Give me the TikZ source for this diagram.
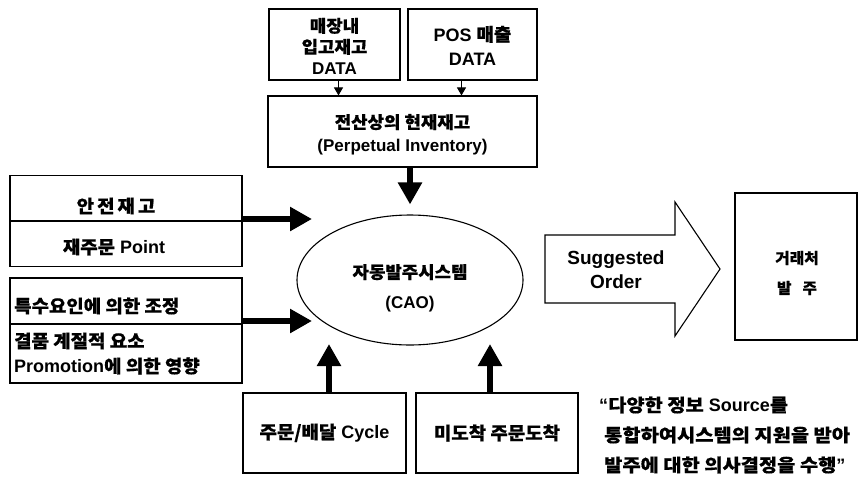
\documentclass[tikz,border=0pt]{standalone}
\usepackage{fontspec}
\setmainfont{Liberation Sans}
% Hangul faces: slightly widened and heavier for the boxes and for the closing note
\newfontfamily\krfont{Noto Sans CJK KR}[FakeStretch=1.05, FakeBold=0.5]
\newfontfamily\krnote{Noto Sans CJK KR}[FakeStretch=1.1, FakeBold=0.5]
\newcommand\K[1]{{\krfont\bfseries #1}}
\newcommand\KN[1]{{\krnote\bfseries #1}}
\usetikzlibrary{arrows.meta,shapes.geometric}

\begin{document}
\begin{tikzpicture}[x=1pt,y=-1pt,
  every node/.style={font=\fontsize{18}{22}\selectfont\bfseries},
  box/.style={draw, line width=1.1pt, inner sep=0pt, align=center},
  label/.style={inner sep=0pt, align=center},
  thin arrow/.style={line width=1pt, -{Triangle[length=8pt,width=9pt]}},
  fat arrow/.style={line width=6.5pt, -{Triangle[length=22pt,width=23pt]}}]

\useasboundingbox (0,0) rectangle (859,480);

% data sources on top
\node[box, minimum width=131pt, minimum height=71pt] (src1) at (334.5,44.5) {};
\node[label, font=\fontsize{17}{21}\selectfont\bfseries] (src1text) at (334.5,46)
  {\K{매장내}\\\K{입고재고}\\DATA};
\node[box, minimum width=129pt, minimum height=71pt] (src2) at (472.5,44.5) {};
\node[label, font=\fontsize{18}{24}\selectfont\bfseries] (src2text) at (472.5,45.5)
  {POS \K{매출}\\DATA};

% perpetual inventory
\node[box, minimum width=269pt, minimum height=71pt] (mid) at (402.5,131.5) {};
\node[label, font=\fontsize{17}{23}\selectfont\bfseries] (midtext) at (402.5,134.5)
  {\K{전산상의 현재재고}\\(Perpetual Inventory)};

\draw[thin arrow] ([xshift=4pt]src1.south) -- ([xshift=4pt]src1.south |- mid.north);
\draw[thin arrow] ([xshift=-11pt]src2.south) -- ([xshift=-11pt]src2.south |- mid.north);

% central system
\node[draw, ellipse, line width=1.1pt, minimum width=226pt, minimum height=130pt, inner sep=0pt] (ell) at (410,280) {};
\node[label, font=\fontsize{17}{30}\selectfont\bfseries] (elltext) at (410,288)
  {\K{자동발주시스템}\\(CAO)};

\draw[fat arrow] (mid.south -| ell.north) -- ([yshift=10pt]ell.north);

% left inputs
\node[box, minimum width=232pt, minimum height=91pt] (boxA) at (126,221) {};
\draw[line width=1.1pt] (boxA.west) -- (boxA.east);
\node[label] (safety) at (116,206) {\K{안\hspace{3pt}전\hspace{3pt}재\hspace{3pt}고}};
\node[label] (reorder) at (114,247) {\K{재주문} Point};

\node[box, minimum width=232pt, minimum height=105pt] (boxB) at (126,330.5) {};
\coordinate (divB) at (0,324);
\draw[line width=1.1pt] (boxB.west |- divB) -- (boxB.east |- divB);
\node[label, anchor=west] (special) at (14,306) {\K{특수요인에 의한 조정}};
\node[label, anchor=west] (season) at (14,341) {\K{결품 계절적 요소}};
\node[label, anchor=west] (promo) at (14,366) {Promotion\K{에 의한 영향}};

\coordinate (inA) at (312,219);
\coordinate (inB) at (312,321);
\draw[fat arrow] (boxA.east |- inA) -- (inA);
\draw[fat arrow] (boxB.east |- inB) -- (inB);

% bottom inputs
\node[box, minimum width=163pt, minimum height=80pt] (boxC) at (324.5,433)
  {\K{주문/배달} Cycle};
\node[box, minimum width=162pt, minimum height=80pt] (boxD) at (497,433)
  {\K{미도착 주문도착}};

\coordinate (inC) at (329,344);
\coordinate (inD) at (490,344);
\draw[fat arrow] (boxC.north -| inC) -- (inC);
\draw[fat arrow] (boxD.north -| inD) -- (inD);

% suggested order block arrow
\draw[line width=1.1pt, line join=miter] (545,235) -- (675,235) -- (675,202) -- (720,269)
  -- (675,336) -- (675,303) -- (545,303) -- cycle;
\node[label, font=\fontsize{19}{24}\selectfont\bfseries] (suggest) at (616,270) {Suggested\\Order};

% supplier
\node[box, minimum width=122pt, minimum height=147pt] (vendor) at (796,266.5) {};
\node[label, font=\fontsize{15}{30}\selectfont\bfseries] (vendortext) at (797,273)
  {\K{거래처}\\\K{발\hspace{11pt}주}};

% closing note
\node[label, anchor=west, align=left, font=\fontsize{18}{30}\selectfont\bfseries] (note) at (599,435)
  {“\KN{다양한 정보} Source\KN{를}\\
   \hspace*{5pt}\KN{통합하여시스템의 지원을 받아}\\
   \hspace*{5pt}\KN{발주에 대한 의사결정을 수행}”};
\end{tikzpicture}
\end{document}
